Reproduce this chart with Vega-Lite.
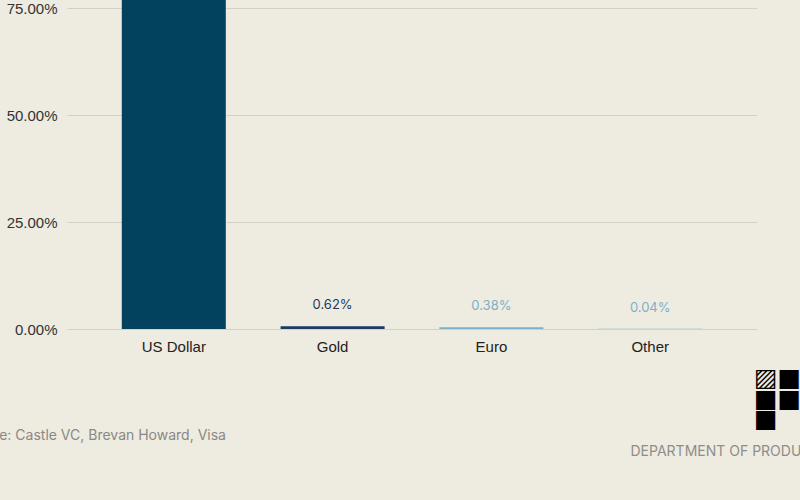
{
  "$schema": "https://vega.github.io/schema/vega-lite/v6.json",
  "autosize": "none",
  "width": 690,
  "height": 329,
  "padding": {"left": 67, "top": 0, "right": 43, "bottom": 171},
  "background": "#eeebe1",
  "config": {"view": {"stroke": null}},
  "title": {"text": ["▨■", "■■", "■"], "anchor": "start", "frame": "group", "orient": "top",
    "baseline": "top", "offset": 0, "dx": 687, "dy": 432, "font": "DejaVu Sans", "fontSize": 25,
    "lineHeight": 20.5, "fontWeight": "normal", "color": "#000000"},
  "data": {"values": [
    {"asset": "US Dollar", "share": 0.9896},
    {"asset": "Gold", "share": 0.0062},
    {"asset": "Euro", "share": 0.0038},
    {"asset": "Other", "share": 0.0004}
  ]},
  "encoding": {
    "x": {"field": "asset", "type": "nominal", "sort": null,
      "scale": {"paddingInner": 0.345, "paddingOuter": 0.345},
      "axis": {"labelAngle": 0, "domain": false, "ticks": false, "labelPadding": 10,
        "labelFont": "Liberation Sans", "labelFontSize": 15, "labelColor": "#222222",
        "title": "Source: Castle VC, Brevan Howard, Visa", "titleX": -107, "titleY": 106,
        "titleAlign": "left", "titleAnchor": null, "titleBaseline": "middle",
        "titleFont": "Inter", "titleFontSize": 14, "titleFontWeight": "normal", "titleColor": "#8a8886"}}
  },
  "layer": [
    {
      "mark": {"type": "bar", "clip": true},
      "encoding": {
        "y": {"field": "share", "type": "quantitative",
          "scale": {"domain": [0, 0.7687], "nice": false, "zero": true},
          "axis": {"values": [0, 0.25, 0.5, 0.75], "format": ".2%", "domain": false, "ticks": false,
            "labelPadding": 10, "labelFont": "Liberation Sans", "labelFontSize": 15, "labelColor": "#333333",
            "gridColor": "#d2d0c8", "gridWidth": 1,
            "title": "DEPARTMENT OF PRODUCT", "titleAngle": 0, "titleX": 563, "titleY": 451,
            "titleAlign": "left", "titleBaseline": "middle", "titleAnchor": null,
            "titleFont": "Inter", "titleFontSize": 14, "titleFontWeight": "normal", "titleColor": "#8f8d8a"}},
        "color": {"field": "asset", "type": "nominal", "legend": null,
          "scale": {"domain": ["US Dollar", "Gold", "Euro", "Other"], "range": ["#03425f", "#1d3a61", "#7db0c9", "#7db0c9"]}}
      }
    },
    {
      "transform": [{"filter": "datum.share < 0.5"}],
      "mark": {"type": "text", "baseline": "middle", "dy": -21, "font": "Inter", "fontSize": 13},
      "encoding": {
        "y": {"field": "share", "type": "quantitative"},
        "text": {"field": "share", "type": "quantitative", "format": ".2%"},
        "color": {"field": "asset", "type": "nominal", "legend": null,
          "scale": {"domain": ["US Dollar", "Gold", "Euro", "Other"], "range": ["#03425f", "#1d3a61", "#6a9fc2", "#6a9fc2"]}}
      }
    },
    {
      "mark": {"type": "rule", "color": "#333333", "strokeWidth": 1},
      "encoding": {"y": {"datum": 0, "type": "quantitative"}}
    }
  ]
}
